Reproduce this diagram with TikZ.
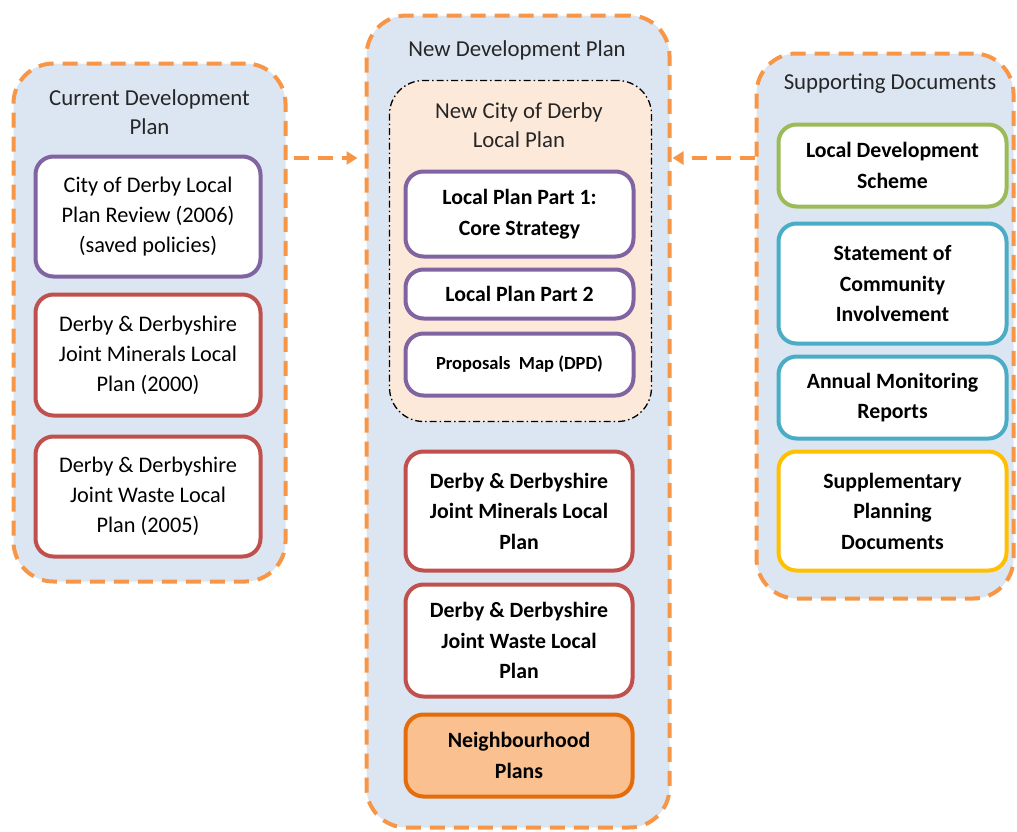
\documentclass[tikz,border=0pt]{standalone}
\usepackage{fontspec}
\setmainfont{Carlito}
\usetikzlibrary{arrows.meta}
\definecolor{panel}{HTML}{DCE6F2}
\definecolor{dashorange}{HTML}{F79646}
\definecolor{peach}{HTML}{FDE9D9}
\definecolor{cpurple}{HTML}{8064A2}
\definecolor{cred}{HTML}{C0504D}
\definecolor{cgreen}{HTML}{9BBB59}
\definecolor{cblue}{HTML}{4BACC6}
\definecolor{cgold}{HTML}{FFC000}
\definecolor{nfill}{HTML}{FAC090}
\definecolor{nline}{HTML}{E46C0A}
\begin{document}
\begin{tikzpicture}[x=1pt,y=-1pt,
  container/.style={draw=dashorange, line width=4pt, dash pattern=on 15pt off 9pt,
    fill=panel, rounded corners=40pt, inner sep=0pt},
  inner/.style={draw=black, line width=1.3pt, dash pattern=on 7pt off 3pt on 1.5pt off 3pt,
    fill=peach, rounded corners=34pt, inner sep=0pt},
  title/.style={align=center, font=\fontsize{22.8}{29}\selectfont, text=black!85},
  box/.style={draw, line width=4pt, fill=white, rounded corners=18pt, align=center,
    inner sep=0pt, font=\fontsize{22.3}{30}\selectfont},
  bbox/.style={box, font=\fontsize{21.8}{30.5}\selectfont\bfseries},
  arr/.style={draw=dashorange, line width=4pt, dash pattern=on 15pt off 9pt,
    -{Triangle[length=11pt,width=13pt]}}
]
\useasboundingbox (0,0) rectangle (1017,831);

% containers
\node[container, minimum width=272pt, minimum height=518pt] (LC) at (149.5,322.5) {};
\node[container, minimum width=303pt, minimum height=812pt] (MC) at (518,421.5) {};
\node[container, minimum width=257pt, minimum height=545pt] (RC) at (885,326) {};

% left
\node[title] (LT) at (149.5,112) {Current Development\\Plan};
\node[box, draw=cpurple, minimum width=225pt, minimum height=120pt] (L1) at (148,216.5)
  {City of Derby Local\\Plan Review (2006)\\(saved policies)};
\node[box, draw=cred, minimum width=225pt, minimum height=121pt] (L2) at (148,355)
  {Derby \& Derbyshire\\Joint Minerals Local\\Plan (2000)};
\node[box, draw=cred, minimum width=225pt, minimum height=120pt] (L3) at (148,496.5)
  {Derby \& Derbyshire\\Joint Waste Local\\Plan (2005)};

% middle
\node[title] (MT) at (517,50) {New Development Plan};
\node[inner, minimum width=262pt, minimum height=341pt] (IN) at (520.5,251) {};
\node[title] (IT) at (519,125) {New City of Derby\\Local Plan};
\node[bbox, draw=cpurple, minimum width=228pt, minimum height=85pt] (M1) at (519.5,214)
  {Local Plan Part 1:\\Core Strategy};
\node[bbox, draw=cpurple, minimum width=228pt, minimum height=49pt] (M2) at (519.5,294)
  {Local Plan Part 2};
\node[bbox, draw=cpurple, minimum width=228pt, minimum height=62pt, font=\fontsize{18.5}{24}\selectfont\bfseries] (M3) at (519.5,364.5)
  {Proposals~~Map (DPD)};
\node[bbox, draw=cred, minimum width=227pt, minimum height=119pt] (M4) at (519,511)
  {Derby \& Derbyshire\\Joint Minerals Local\\Plan};
\node[bbox, draw=cred, minimum width=227pt, minimum height=112pt] (M5) at (519,640.5)
  {Derby \& Derbyshire\\Joint Waste Local\\Plan};
\node[bbox, draw=nline, fill=nfill, minimum width=227pt, minimum height=82pt] (M6) at (519,755.5)
  {Neighbourhood\\Plans};

% right
\node[title] (RT) at (890,84) {Supporting Documents};
\node[bbox, draw=cgreen, minimum width=228pt, minimum height=82pt] (R1) at (892.5,165.5)
  {Local Development\\Scheme};
\node[bbox, draw=cblue, minimum width=228pt, minimum height=120pt] (R2) at (892.5,283.5)
  {Statement of\\Community\\Involvement};
\node[bbox, draw=cblue, minimum width=228pt, minimum height=82pt] (R3) at (892.5,397.5)
  {Annual Monitoring\\Reports};
\node[bbox, draw=cgold, minimum width=228pt, minimum height=119pt] (R4) at (892.5,511)
  {Supplementary\\Planning\\Documents};

% arrows
\draw[arr] ([xshift=6pt]LC.east |- 0,158) -- ([xshift=-7pt]MC.west |- 0,158);
\draw[arr] (RC.west |- 0,158) -- ([xshift=1pt]MC.east |- 0,158);
\end{tikzpicture}
\end{document}
